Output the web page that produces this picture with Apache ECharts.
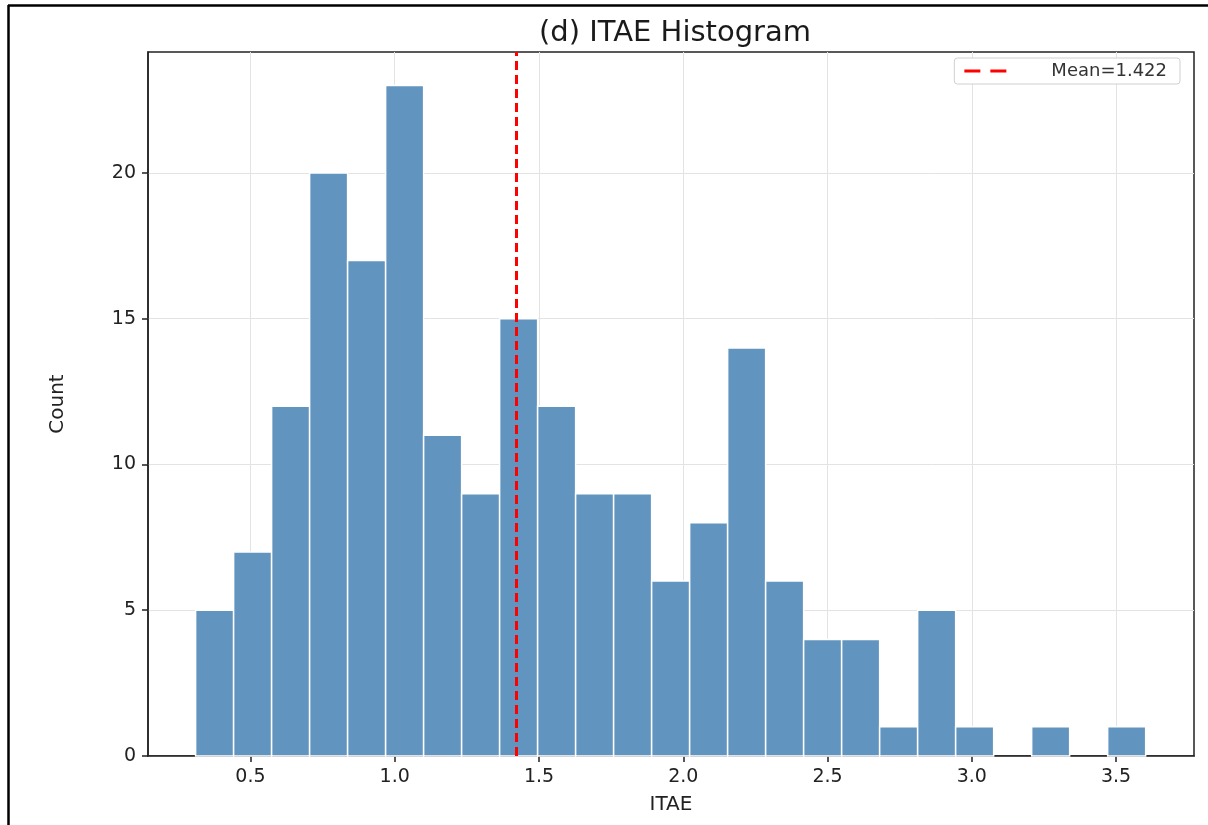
<!DOCTYPE html>
<html>
<head>
<meta charset="utf-8">
<script src="https://cdn.jsdelivr.net/npm/echarts@6/dist/echarts.min.js"></script>
<style>
html,body{margin:0;padding:0;background:#fff;}
#chart{width:1208px;height:825px;}
</style>
</head>
<body>
<div id="chart"></div>
<script>
// Histogram data
var binStart = 0.310;
var binWidth = 0.1317;
var counts = [5, 7, 12, 20, 17, 23, 11, 9, 15, 12, 9, 9, 6, 8, 14, 6, 4, 4, 1, 5, 1, 0, 1, 0, 1];
var meanValue = 1.422;
var xTicks = [0.5, 1.0, 1.5, 2.0, 2.5, 3.0, 3.5];
var yTicks = [0, 5, 10, 15, 20];
var xRange = [0.145, 3.77];
var yRange = [0, 24.15];

var barData = counts.map(function (c, i) {
  return [binStart + i * binWidth, binStart + (i + 1) * binWidth, c];
});

var font = 'DejaVu Sans';
var chart = echarts.init(document.getElementById('chart'));
chart.setOption({
  backgroundColor: '#fff',
  animation: false,
  title: {
    text: '(d) ITAE Histogram',
    left: 670, textAlign: 'center', top: 14,
    textStyle: { fontFamily: font, fontSize: 29, fontWeight: 'normal', color: '#1a1a1a' }
  },
  legend: {
    right: 28, top: 58,
    padding: [4, 13, 4, 10],
    backgroundColor: '#fff',
    borderColor: '#d0d0d0', borderWidth: 1, borderRadius: 3,
    itemWidth: 42, itemHeight: 3,
    icon: 'path://M0,0 h16 v3 h-16z M26,0 h16 v3 h-16z',
    textStyle: { fontFamily: font, fontSize: 18, color: '#333', padding: [0, 0, 0, 40] },
    data: ['Mean=' + meanValue.toFixed(3)]
  },
  grid: {
    left: 148, right: 14, top: 52, bottom: 69,
    show: true, borderColor: '#222', borderWidth: 1.5
  },
  xAxis: {
    type: 'value', min: xRange[0], max: xRange[1],
    name: 'ITAE', nameLocation: 'middle', nameGap: 39,
    nameTextStyle: { fontFamily: font, fontSize: 20, color: '#222' },
    axisLine: { show: true, onZero: false, lineStyle: { color: '#222', width: 1.5 } },
    axisTick: { show: true, length: 6, customValues: xTicks, lineStyle: { color: '#222', width: 1.5 } },
    axisLabel: { customValues: xTicks, margin: 12, fontFamily: font, fontSize: 19, color: '#222',
      formatter: function (v) { return v.toFixed(1); } },
    splitLine: { show: true, lineStyle: { color: '#e3e3e3', width: 1 } }
  },
  yAxis: {
    type: 'value', min: yRange[0], max: yRange[1],
    name: 'Count', nameLocation: 'middle', nameGap: 80, nameRotate: 90,
    nameTextStyle: { fontFamily: font, fontSize: 20, color: '#222' },
    axisLine: { show: true, lineStyle: { color: '#222', width: 1.5 } },
    axisTick: { show: true, length: 6, customValues: yTicks, lineStyle: { color: '#222', width: 1.5 } },
    axisLabel: { customValues: yTicks, margin: 12, fontFamily: font, fontSize: 19, color: '#222' },
    splitLine: { show: true, lineStyle: { color: '#e3e3e3', width: 1 } }
  },
  series: [
    {
      type: 'custom',
      name: 'hist',
      data: barData,
      encode: { x: [0, 1], y: 2 },
      renderItem: function (params, api) {
        if (api.value(2) <= 0) { return null; }
        var p0 = api.coord([api.value(0), api.value(2)]);
        var p1 = api.coord([api.value(1), 0]);
        return {
          type: 'rect',
          shape: { x: p0[0], y: p0[1], width: p1[0] - p0[0], height: p1[1] - p0[1] },
          style: { fill: '#6194bf', stroke: '#ffffff', lineWidth: 1.5 }
        };
      },
      z: 2
    },
    {
      type: 'line',
      name: 'Mean=' + meanValue.toFixed(3),
      data: [[meanValue, yRange[0]], [meanValue, yRange[1]]],
      symbol: 'none',
      color: '#ff0000',
      lineStyle: { color: '#ff0000', width: 3, type: [9, 5] },
      z: 5
    }
  ],
  graphic: [
    { type: 'line', shape: { x1: 8.5, y1: 5, x2: 8.5, y2: 825 }, style: { stroke: '#000', lineWidth: 2.5 } },
    { type: 'line', shape: { x1: 8, y1: 5.5, x2: 1208, y2: 5.5 }, style: { stroke: '#000', lineWidth: 2.5 } }
  ]
});
</script>
</body>
</html>
